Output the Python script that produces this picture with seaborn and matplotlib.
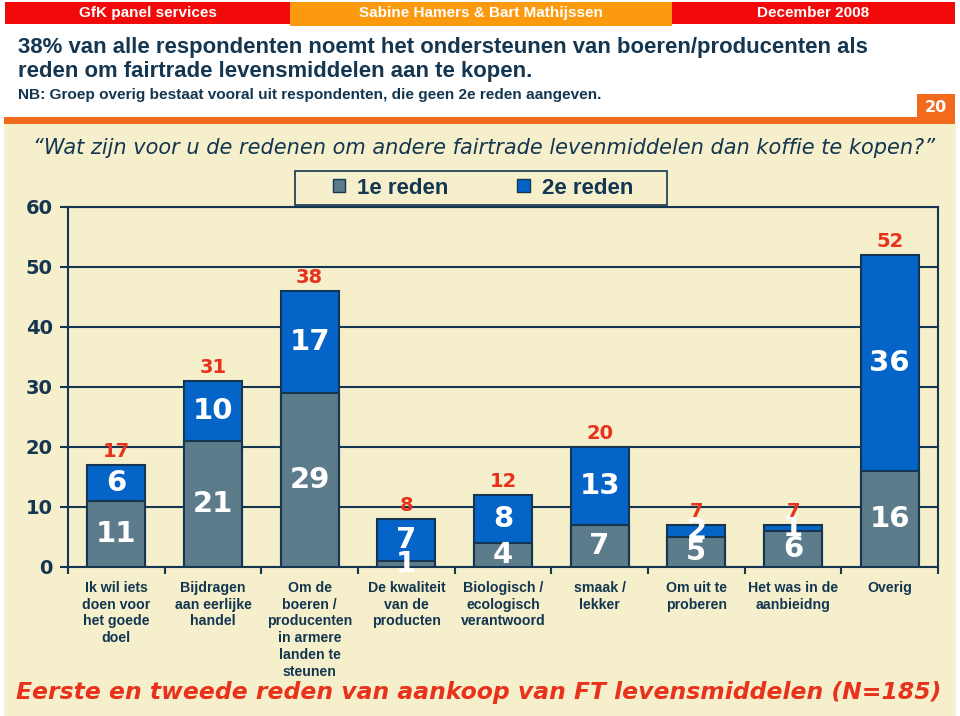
import numpy as np
import pandas as pd
import matplotlib.pyplot as plt
from matplotlib.patches import Rectangle, Patch
import seaborn as sns

# data
categories = [
    "Ik wil iets\ndoen voor\nhet goede\ndoel",
    "Bijdragen\naan eerlijke\nhandel",
    "Om de\nboeren /\nproducenten\nin armere\nlanden te\nsteunen",
    "De kwaliteit\nvan de\nproducten",
    "Biologisch /\necologisch\nverantwoord",
    "smaak /\nlekker",
    "Om uit te\nproberen",
    "Het was in de\naanbieidng",
    "Overig",
]
first_reason = [11, 21, 29, 1, 4, 7, 5, 6, 16]
second_reason = [6, 10, 17, 7, 8, 13, 2, 1, 36]
total_labels = [17, 31, 38, 8, 12, 20, 7, 7, 52]
y_ticks = [0, 10, 20, 30, 40, 50, 60]
series_names = ["1e reden", "2e reden"]

NAVY = "#143650"
BLUE = "#0564c8"
GREY = "#5c7b8b"
CREAM = "#f5efcc"
RED = "#e8321c"
HEAD_RED = "#f20a0a"
HEAD_ORANGE = "#fb9a0e"
LINE_ORANGE = "#f26a1b"
NARROW = ["Liberation Sans", "DejaVu Sans"]

df = pd.DataFrame({"reden": categories, "eerste": first_reason, "tweede": second_reason})
df["stack"] = df["eerste"] + df["tweede"]

sns.set_style("white")
plt.rcParams["font.family"] = ["DejaVu Sans"]

W, H = 960, 716


def px(x):
    return x / W


def py(y):
    return 1 - y / H


fig = plt.figure(figsize=(9.6, 7.16), dpi=100)
fig.patch.set_facecolor("white")

# background panels
fig.add_artist(Rectangle((px(4), 0), px(952), py(124), transform=fig.transFigure,
                         facecolor=CREAM, edgecolor="none", zorder=0))
fig.add_artist(Rectangle((px(4), py(124)), px(951), 7 / H, transform=fig.transFigure,
                         facecolor=LINE_ORANGE, edgecolor="none", zorder=1))
fig.add_artist(Rectangle((px(917), py(124)), px(38), 30 / H, transform=fig.transFigure,
                         facecolor=LINE_ORANGE, edgecolor="none", zorder=1))

# header band
fig.add_artist(Rectangle((px(5), py(24)), px(285), 22 / H, transform=fig.transFigure,
                         facecolor=HEAD_RED, edgecolor="none"))
fig.add_artist(Rectangle((px(290), py(26)), px(382), 24 / H, transform=fig.transFigure,
                         facecolor=HEAD_ORANGE, edgecolor="none"))
fig.add_artist(Rectangle((px(672), py(24)), px(283), 22 / H, transform=fig.transFigure,
                         facecolor=HEAD_RED, edgecolor="none"))
hfont = dict(color="white", fontsize=11, fontweight="bold", ha="center", va="center",
             family=NARROW)
fig.text(px(148), py(13), "GfK panel services", **hfont)
fig.text(px(481), py(13), "Sabine Hamers & Bart Mathijssen", **hfont)
fig.text(px(813), py(13), "December 2008", **hfont)

# titles
tfont = dict(color=NAVY, fontweight="bold", ha="left", va="center", family=NARROW)
fig.text(px(18), py(47), "38% van alle respondenten noemt het ondersteunen van boeren/producenten als",
         fontsize=15.9, **tfont)
fig.text(px(18), py(72), "reden om fairtrade levensmiddelen aan te kopen.", fontsize=15.9, **tfont)
fig.text(px(18), py(95), "NB: Groep overig bestaat vooral uit respondenten, die geen 2e reden aangeven.",
         fontsize=11.1, **tfont)
fig.text(px(936), py(108), "20", color="white", fontsize=11.5, fontweight="bold",
         ha="center", va="center")

fig.text(px(33), py(148),
         "\u201cWat zijn voor u de redenen om andere fairtrade levenmiddelen dan koffie te kopen?\u201d",
         color=NAVY, fontsize=15, fontstyle="italic", ha="left", va="center")

fig.text(px(479), py(693), "Eerste en tweede reden van aankoop van FT levensmiddelen (N=185)",
         color=RED, fontsize=16.9, fontweight="bold", fontstyle="italic", ha="center", va="center")

# legend box drawn separately so its padding matches the reference
fig.add_artist(Rectangle((px(295), py(205)), px(372), 34 / H, transform=fig.transFigure,
                         facecolor=CREAM, edgecolor=NAVY, linewidth=1.2, zorder=1))

# chart
ax = fig.add_axes([px(68), py(567), px(938) - px(68), py(207) - py(567)])
ax.set_facecolor("none")
ax.set_zorder(2)

sns.barplot(data=df, x="reden", y="stack", color=BLUE, saturation=1, width=0.6,
            edgecolor=NAVY, linewidth=1.5, ax=ax, zorder=3)
sns.barplot(data=df, x="reden", y="eerste", color=GREY, saturation=1, width=0.6,
            edgecolor=NAVY, linewidth=1.5, ax=ax, zorder=4)

ax.set_xlim(-0.5, len(categories) - 0.5)
ax.set_ylim(0, 60)
ax.set_xlabel("")
ax.set_ylabel("")
ax.set_yticks(y_ticks)
ax.yaxis.grid(True, color=NAVY, linewidth=1.5)
ax.set_axisbelow(True)
for s in ax.spines.values():
    s.set_color(NAVY)
    s.set_linewidth(1.5)
    s.set_visible(True)

ax.tick_params(axis="y", which="major", direction="out", length=6, width=1.5, color=NAVY,
               labelsize=14, labelcolor=NAVY, pad=5, left=True)
for lab in ax.get_yticklabels():
    lab.set_fontweight("bold")

ax.set_xticks(range(len(categories)))
ax.set_xticks(np.arange(-0.5, len(categories)), minor=True)
ax.set_xticklabels(categories, fontsize=10.2, fontweight="bold", color=NAVY, linespacing=1.25,
                   family=NARROW, va="top")
ax.tick_params(axis="x", which="major", length=0, pad=10)
ax.tick_params(axis="x", which="minor", direction="out", length=5, width=1.5, color=NAVY,
               bottom=True)

for i, (a, b, t) in enumerate(zip(first_reason, second_reason, total_labels)):
    ax.text(i, a / 2, str(a), color="white", fontsize=21, fontweight="bold",
            ha="center", va="center", zorder=6)
    ax.text(i, a + b / 2, str(b), color="white", fontsize=21, fontweight="bold",
            ha="center", va="center", zorder=6)
    ax.annotate(str(t), xy=(i, a + b), xytext=(0, 10), textcoords="offset points",
                color=RED, fontsize=14, fontweight="bold", ha="center", va="center", zorder=6)

handles = [Patch(facecolor=GREY, edgecolor=NAVY, linewidth=1),
           Patch(facecolor=BLUE, edgecolor=NAVY, linewidth=1)]
leg = ax.legend(handles, series_names, loc="center", bbox_to_anchor=(px(483), py(188)),
                bbox_transform=fig.transFigure, ncol=2, frameon=False,
                prop=dict(size=16, weight="bold", family=NARROW), labelcolor=NAVY,
                handlelength=0.55, handleheight=0.55, handletextpad=0.55,
                columnspacing=3.1, borderpad=0, borderaxespad=0)

fig.savefig("out.png", dpi=100)
